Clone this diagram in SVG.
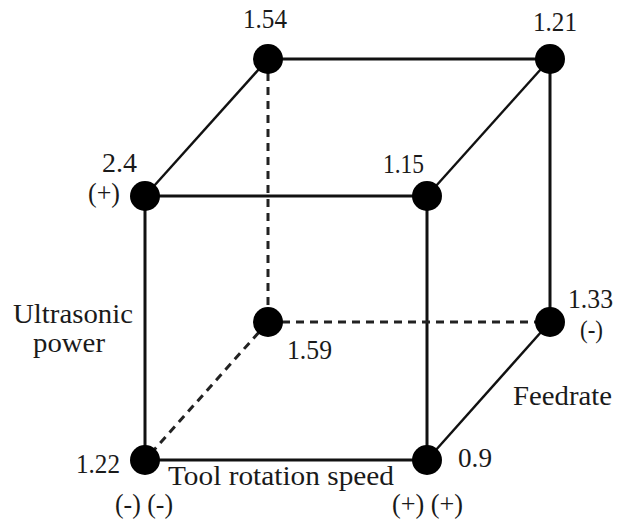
<svg xmlns="http://www.w3.org/2000/svg" width="618" height="529" viewBox="0 0 618 529">
<style>
.e{stroke:#111;stroke-width:3;fill:none}
.d{stroke:#111;stroke-width:2.4;fill:none}
.h{stroke:#222;stroke-width:3;fill:none;stroke-dasharray:8 6}
.n{fill:#000}
text{font-family:"Liberation Serif","Times New Roman",serif;font-size:27px;fill:#1a1a1a}
.s{font-size:25px}
</style>
<rect width="618" height="529" fill="#fff"/>
<g id="connectors">
<line class="e" x1="268" y1="59" x2="550" y2="59"/>
<line class="d" x1="268" y1="59" x2="145" y2="196"/>
<line class="d" x1="550" y1="59" x2="427" y2="196"/>
<line class="e" x1="550" y1="59" x2="550" y2="322"/>
<line class="e" x1="145" y1="196" x2="427" y2="196"/>
<line class="e" x1="145" y1="196" x2="145" y2="460"/>
<line class="e" x1="427" y1="196" x2="427" y2="460"/>
<line class="e" x1="145" y1="460" x2="427" y2="460"/>
<line class="d" x1="550" y1="322" x2="427" y2="460"/>
<line class="h" x1="268" y1="59" x2="268" y2="322"/>
<line class="h" x1="268" y1="322" x2="550" y2="322"/>
<line class="h" x1="268" y1="322" x2="145" y2="460"/>
</g>
<g id="n154"><circle class="n" cx="268" cy="59" r="15"/><text x="243" y="28" textLength="44" lengthAdjust="spacingAndGlyphs">1.54</text></g>
<g id="n121"><circle class="n" cx="550" cy="59" r="15"/><text x="533" y="31" textLength="44" lengthAdjust="spacingAndGlyphs">1.21</text></g>
<g id="n24"><circle class="n" cx="145" cy="196" r="15"/><text x="102" y="172" textLength="35" lengthAdjust="spacingAndGlyphs">2.4</text><text x="88" y="202" textLength="32" lengthAdjust="spacingAndGlyphs">(+)</text></g>
<g id="n115"><circle class="n" cx="427" cy="196" r="15"/><text x="383" y="173" textLength="41" lengthAdjust="spacingAndGlyphs">1.15</text></g>
<g id="n159"><circle class="n" cx="268" cy="322" r="15"/><text x="287" y="359" textLength="45" lengthAdjust="spacingAndGlyphs">1.59</text></g>
<g id="n133"><circle class="n" cx="550" cy="322" r="15"/><text x="568" y="308" textLength="45" lengthAdjust="spacingAndGlyphs">1.33</text><text class="s" x="580" y="338" textLength="23" lengthAdjust="spacingAndGlyphs">(-)</text></g>
<g id="n122"><circle class="n" cx="145" cy="460" r="15"/><text x="76" y="473" textLength="44" lengthAdjust="spacingAndGlyphs">1.22</text><text x="115" y="513" textLength="58" lengthAdjust="spacingAndGlyphs">(-) (-)</text></g>
<g id="n09"><circle class="n" cx="427" cy="460" r="15"/><text x="458" y="467" textLength="34" lengthAdjust="spacingAndGlyphs">0.9</text><text x="392" y="513" textLength="71" lengthAdjust="spacingAndGlyphs">(+) (+)</text></g>
<g id="axes">
<text x="13" y="323" textLength="120" lengthAdjust="spacingAndGlyphs">Ultrasonic</text>
<text x="33" y="352" textLength="72" lengthAdjust="spacingAndGlyphs">power</text>
<text x="513" y="405" textLength="99" lengthAdjust="spacingAndGlyphs">Feedrate</text>
<text x="168" y="485" textLength="226" lengthAdjust="spacingAndGlyphs">Tool rotation speed</text>
</g>
</svg>
